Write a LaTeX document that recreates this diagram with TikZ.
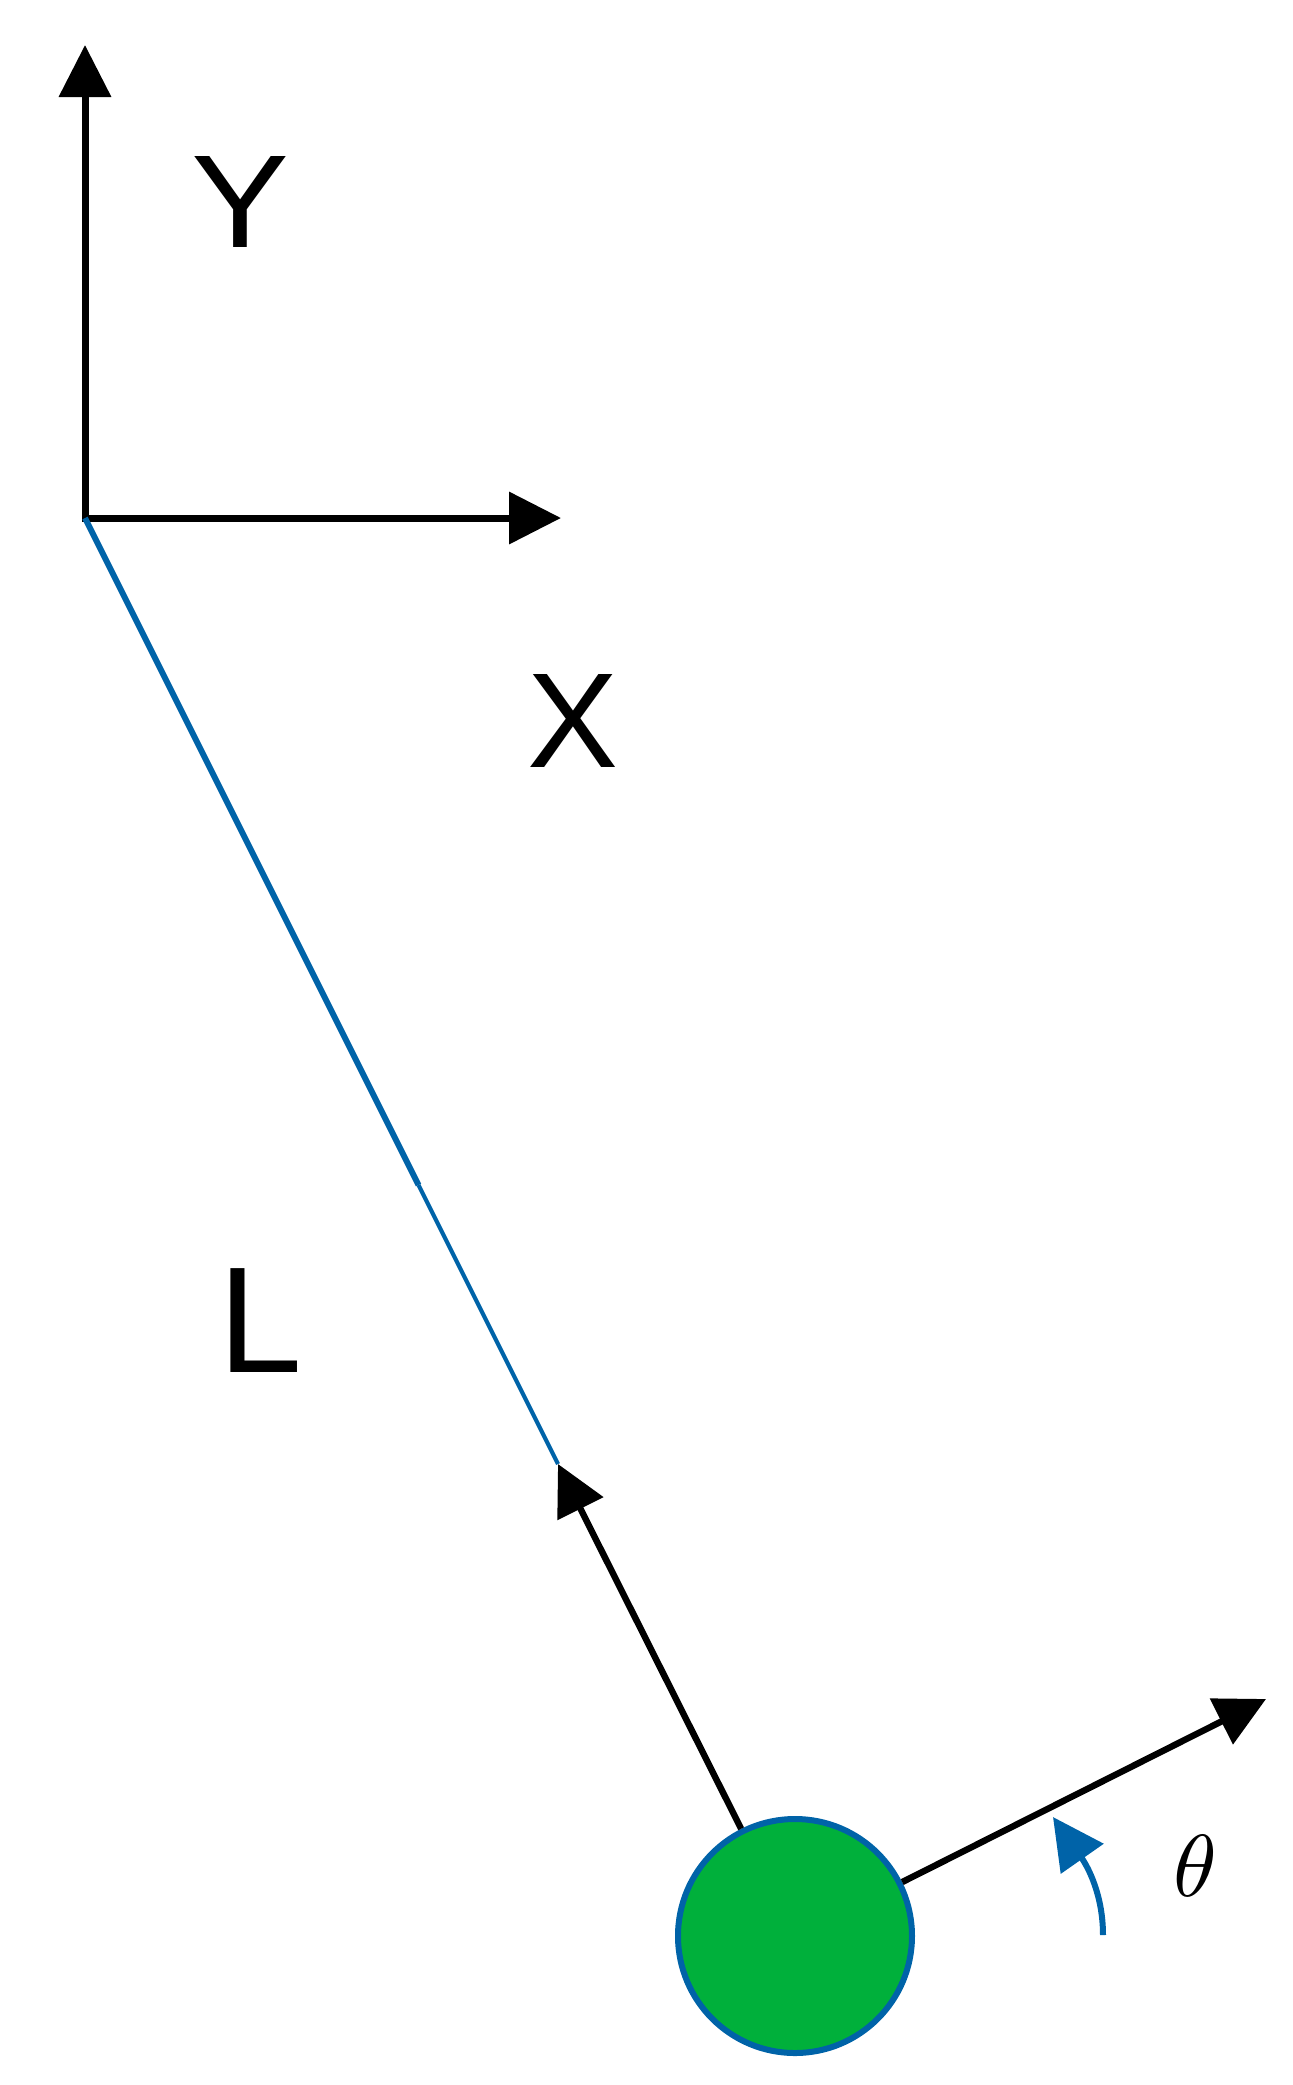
\documentclass[tikz,border=0pt]{standalone}
\usepackage{fontspec}
\setmainfont{Liberation Sans}
\usetikzlibrary{arrows.meta}
\definecolor{lineblue}{RGB}{0,99,168}
\definecolor{ballgreen}{RGB}{0,176,59}
\begin{document}
\begin{tikzpicture}[x=0.5pt,y=-0.5pt,
  axisline/.style={line width=3.5pt, line join=miter, {Triangle[length=26pt,width=25.5pt]}-{Triangle[length=26pt,width=25.5pt]}},
  vecline/.style={line width=3.2pt, -{Triangle[length=25pt,width=25pt]}},
  anglearc/.style={lineblue, line width=3pt, -{Triangle[length=25.5pt,width=25.5pt]}},
  lbl/.style={inner sep=0pt, font=\fontsize{75.5pt}{76pt}\selectfont},
  biglbl/.style={inner sep=0pt, font=\fontsize{75.5pt}{76pt}\selectfont},
  mass/.style={circle, draw=lineblue, fill=ballgreen, line width=3pt, minimum size=117pt, inner sep=0pt}
  ]
\useasboundingbox (0,0) rectangle (1292,2085);
% points
\coordinate (O) at (85,518);
\coordinate (Ytip) at (85,45);
\coordinate (Xtip) at (561,518);
\coordinate (M) at (418.5,1185);
\coordinate (P) at (558,1464);
\coordinate (T) at (1266,1699);
\coordinate (Astart) at (1103,1935);
\coordinate (Aend) at (1053,1817);
% axes
\draw[axisline] (Ytip) -- (O) -- (Xtip);
% rod
\draw[lineblue, line width=3pt] (O) -- (M);
\draw[lineblue, line width=2.1pt] (M) -- (P);
% mass
\node[mass] (ball) at (795,1936) {};
% vectors
\draw[vecline] (ball) -- (P);
\draw[vecline] (ball) -- (T);
% angle
\draw[anglearc] (Astart) .. controls (1103,1895) and (1088,1867) .. (Aend);
% labels
\node[lbl] (ylabel) at (240,202) {\resizebox{49pt}{45.5pt}{Y}};
\node[lbl] (xlabel) at (573,721) {\resizebox{45.5pt}{46.5pt}{X}};
\node[biglbl] (llabel) at (260,1321) {L};
\node[inner sep=0pt] (thlabel) at (1195,1866) {\scalebox{4.4}{$\theta$}};
\end{tikzpicture}
\end{document}
